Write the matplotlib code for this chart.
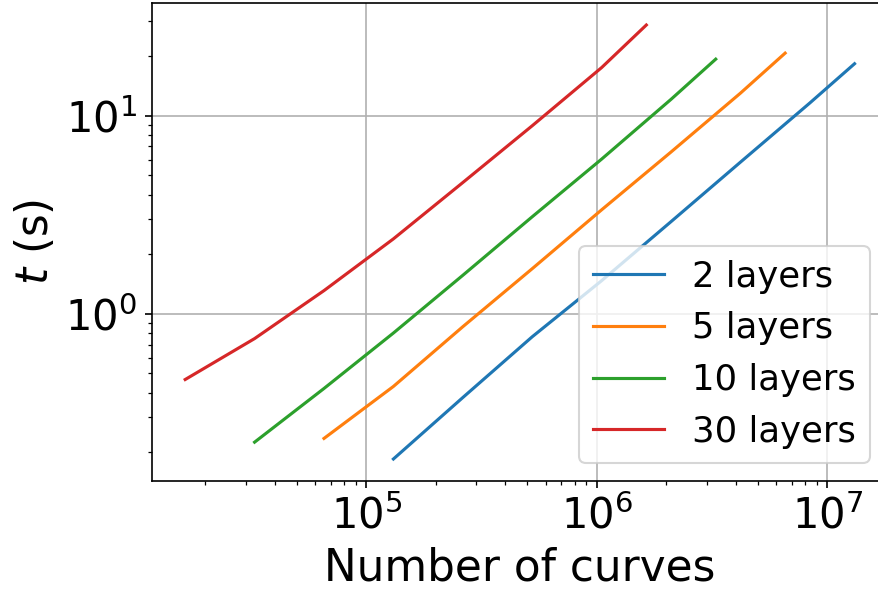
import matplotlib
matplotlib.use("Agg")
import matplotlib.pyplot as plt

labels = ["2 layers", "5 layers", "10 layers", "30 layers"]
colors = ["#1f77b4", "#ff7f0e", "#2ca02c", "#d62728"]

x_2 = [131072, 262144, 524288, 1048576, 2097152, 4194304, 8388608, 13107200]
t_2 = [0.185, 0.378, 0.766, 1.47, 2.92, 5.83, 11.6, 18.3]

x_5 = [65536, 131072, 262144, 524288, 1048576, 2097152, 4194304, 6553600]
t_5 = [0.235, 0.43, 0.861, 1.69, 3.35, 6.56, 13.0, 20.7]

x_10 = [32768, 65536, 131072, 262144, 524288, 1048576, 2097152, 3276800]
t_10 = [0.225, 0.42, 0.80, 1.565, 3.09, 6.04, 12.1, 19.3]

x_30 = [16384, 32768, 65536, 131072, 262144, 524288, 1048576, 1638400]
t_30 = [0.466, 0.75, 1.31, 2.39, 4.6, 8.9, 17.5, 28.7]

xs = [x_2, x_5, x_10, x_30]
ts = [t_2, t_5, t_10, t_30]

fig = plt.figure(figsize=(878 / 150, 592 / 150), dpi=150)
ax = fig.add_axes([0.1728, 0.188, 0.8386, 0.8064])

for x, t, lab, c in zip(xs, ts, labels, colors):
    ax.plot(x, t, color=c, label=lab, linewidth=1.5)

ax.set_xscale("log")
ax.set_yscale("log")
ax.grid(True, which="major", color="#b0b0b0", linewidth=0.8)
ax.tick_params(axis="both", which="major", labelsize=20)
ax.set_xlabel("Number of curves", fontsize=21)
ax.set_ylabel(r"$t$ (s)", fontsize=21)
ax.legend(loc="lower right", fontsize=17)

fig.savefig("out.png", dpi=150)
